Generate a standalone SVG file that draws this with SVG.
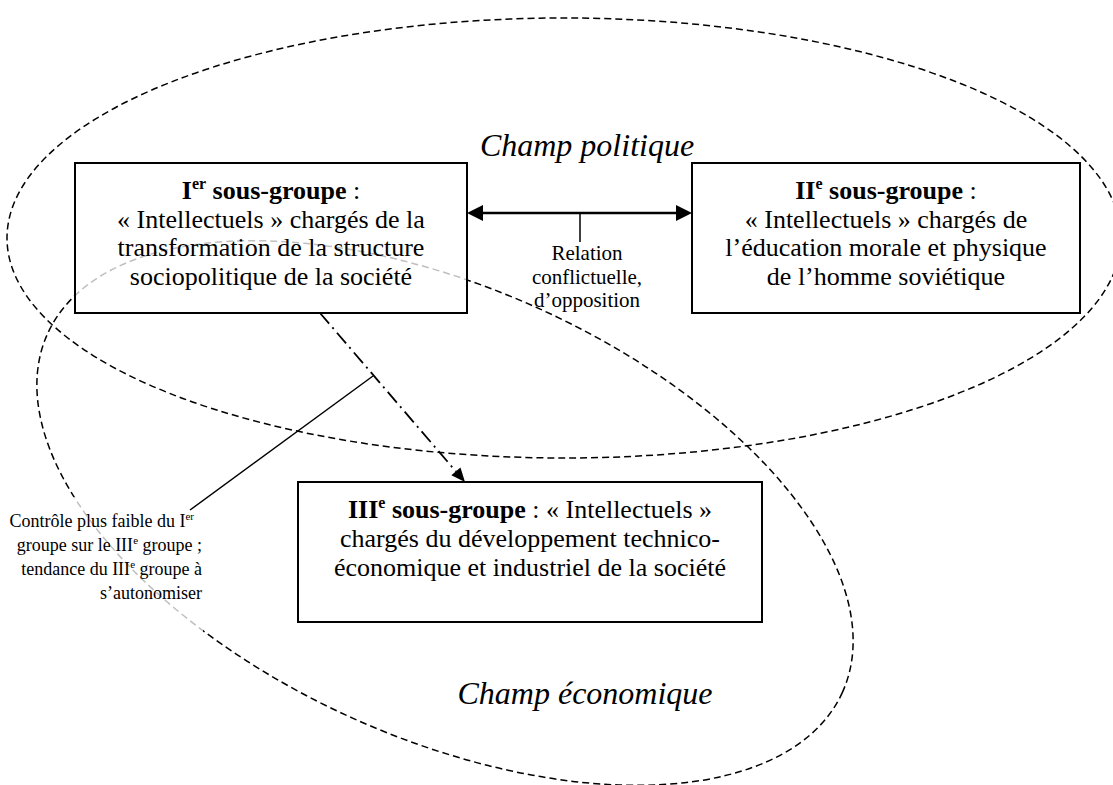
<svg xmlns="http://www.w3.org/2000/svg" width="1113" height="785" viewBox="0 0 1113 785">
<defs>
<style>
.field{fill:none;stroke:#000;stroke-width:1.5;stroke-dasharray:7 4}
.box{fill:#fff;fill-opacity:0.75;stroke:#000;stroke-width:2}
.txt{font-family:"Liberation Serif","Times New Roman",serif;fill:#000}
.bt{font-size:26px;text-anchor:middle}
.it{font-size:32px;font-style:italic;text-anchor:middle}
.sm{font-size:21px;text-anchor:middle}
.an{font-size:18px;text-anchor:end}
.b{font-weight:bold}
.ln{stroke:#000;fill:none}
</style>
<marker id="ah" markerUnits="userSpaceOnUse" markerWidth="17" markerHeight="16" refX="0" refY="8" orient="auto-start-reverse" overflow="visible">
<path d="M0,0 L16,8 L0,16 z" fill="#000"/>
</marker>
<marker id="ah2" markerUnits="userSpaceOnUse" markerWidth="15" markerHeight="12" refX="0" refY="6" orient="auto" overflow="visible">
<path d="M0,0 L14,6 L0,12 z" fill="#000"/>
</marker>
</defs>
<rect width="1113" height="785" fill="#fff"/>

<g id="champ-politique">
<ellipse class="field" cx="564" cy="238" rx="557" ry="220"/>
<text class="txt it" x="587" y="156">Champ politique</text>
</g>

<g id="champ-economique">
<ellipse class="field" cx="445" cy="513" rx="436" ry="225" transform="rotate(24.25 445 513)"/>
<text class="txt it" x="585" y="704">Champ économique</text>
</g>

<g id="annotation">
<rect x="0" y="497" width="203" height="143" fill="#fff" fill-opacity="0.75"/>
<text class="txt an" y="527"><tspan x="194">Contrôle plus faible du I<tspan font-size="11" dy="-7">er</tspan></tspan></text>
<text class="txt an" y="551"><tspan x="202">groupe sur le III<tspan font-size="11" dy="-7">e</tspan><tspan dy="7"> groupe ;</tspan></tspan></text>
<text class="txt an" y="575"><tspan x="202">tendance du III<tspan font-size="11" dy="-7">e</tspan><tspan dy="7"> groupe à</tspan></tspan></text>
<text class="txt an" x="202" y="599">s’autonomiser</text>
</g>

<g id="sous-groupe-1">
<rect class="box" x="75" y="163" width="392" height="150"/>
<text class="txt bt" x="271" y="199"><tspan class="b">I</tspan><tspan class="b" font-size="16" dy="-10">er</tspan><tspan class="b" dy="10"> sous-groupe</tspan> :</text>
<text class="txt bt" x="271" y="227.5">« Intellectuels » chargés de la</text>
<text class="txt bt" x="271" y="256">transformation de la structure</text>
<text class="txt bt" x="271" y="284.5">sociopolitique de la société</text>
</g>

<g id="sous-groupe-2">
<rect class="box" x="692" y="163" width="388" height="150"/>
<text class="txt bt" x="886" y="199"><tspan class="b">II</tspan><tspan class="b" font-size="16" dy="-10">e</tspan><tspan class="b" dy="10"> sous-groupe</tspan> :</text>
<text class="txt bt" x="886" y="227.5">« Intellectuels » chargés de</text>
<text class="txt bt" x="886" y="256">l’éducation morale et physique</text>
<text class="txt bt" x="886" y="284.5">de l’homme soviétique</text>
</g>

<g id="sous-groupe-3">
<rect class="box" x="298" y="482" width="464" height="140"/>
<text class="txt bt" x="530" y="518"><tspan class="b">III</tspan><tspan class="b" font-size="16" dy="-10">e</tspan><tspan class="b" dy="10"> sous-groupe</tspan> : « Intellectuels »</text>
<text class="txt bt" x="530" y="547">chargés du développement technico-</text>
<text class="txt bt" x="530" y="576">économique et industriel de la société</text>
</g>

<g id="connectors">
<line class="ln" x1="483" y1="213" x2="676" y2="213" stroke-width="2.5" marker-start="url(#ah)" marker-end="url(#ah)"/>
<line class="ln" x1="580" y1="213" x2="580" y2="242" stroke-width="1.5"/>
<line class="ln" x1="320" y1="313" x2="455.9" y2="471.4" stroke-width="1.8" stroke-dasharray="14 5 2 5" marker-end="url(#ah2)"/>
<line class="ln" x1="190" y1="510" x2="373" y2="376" stroke-width="1.5"/>
</g>

<g id="relation-label">
<text class="txt sm" x="587" y="260">Relation</text>
<text class="txt sm" x="587" y="284">conflictuelle,</text>
<text class="txt sm" x="587" y="307">d’opposition</text>
</g>
</svg>
